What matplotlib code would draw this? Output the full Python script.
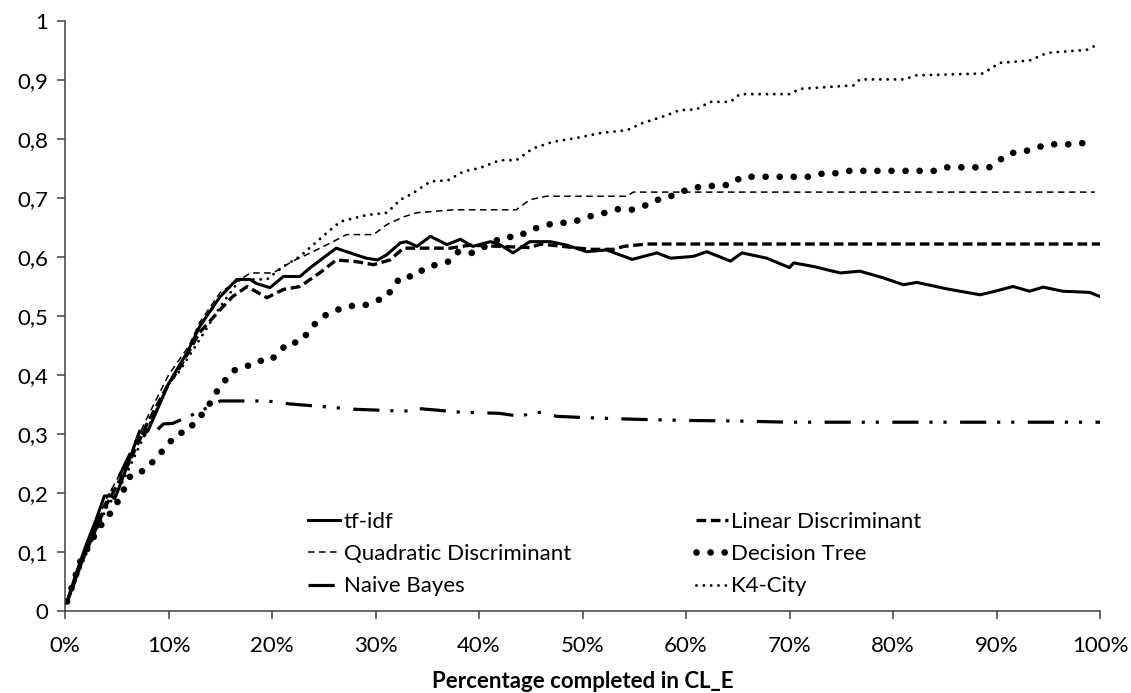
import numpy as np
import matplotlib.pyplot as plt

# values (x in %, y score)
tf_x = [0.2, 1, 2, 3, 3.8, 4.5, 4.8, 6, 7.2, 7.6, 8, 9, 10, 11, 11.8, 13, 14.6, 15.0,
        16.6, 17.9, 18.5, 19.8, 21.1, 22.7, 23.7, 26.2, 27.2, 29.1, 30.2, 31.1, 32.4,
        33.0, 34.0, 35.3, 36.9, 38.2, 39.4, 41.1, 42.0, 43.3, 44.9, 46.9, 48.5, 50.4,
        52.3, 54.8, 57.2, 58.5, 60.7, 62.0, 64.3, 65.4, 67.8, 70.0, 70.4, 72.3, 74.9,
        76.8, 79, 81.0, 82.3, 85.2, 88.4, 89.4, 91.6, 93.2, 94.5, 96.4, 99.0, 100]
tf_y = [0.016, 0.06, 0.11, 0.155, 0.195, 0.195, 0.19, 0.245, 0.305, 0.30, 0.305, 0.345,
        0.385, 0.415, 0.438, 0.482, 0.523, 0.533, 0.562, 0.562, 0.555, 0.548, 0.567,
        0.567, 0.582, 0.615, 0.609, 0.598, 0.595, 0.604, 0.624, 0.626, 0.618, 0.635,
        0.621, 0.63, 0.618, 0.626, 0.621, 0.607, 0.626, 0.626, 0.62, 0.609, 0.612,
        0.596, 0.607, 0.598, 0.601, 0.609, 0.593, 0.607, 0.598, 0.582, 0.590, 0.584,
        0.573, 0.576, 0.565, 0.553, 0.557, 0.546, 0.536, 0.540, 0.550, 0.542, 0.549,
        0.542, 0.540, 0.533]

ld_x = [0.2, 2, 4, 6, 8, 10, 11, 13, 15, 16.2, 17.6, 19.5, 21.1, 22.7, 24.6, 26.2, 28.2,
        29.8, 31.4, 32.7, 37.2, 39.1, 42, 44.9, 46, 50.7, 53, 54, 56.2, 100]
ld_y = [0.016, 0.10, 0.18, 0.245, 0.32, 0.385, 0.41, 0.472, 0.511, 0.533, 0.55, 0.531,
        0.545, 0.55, 0.573, 0.595, 0.592, 0.587, 0.595, 0.615, 0.615, 0.62, 0.618, 0.616,
        0.622, 0.613, 0.613, 0.618, 0.622, 0.622]

qd_x = [0.2, 2, 4, 6, 8, 10, 12, 13, 15, 17.9, 20.1, 22, 23.7, 25.9, 27.2, 29.8, 31.1,
        32.7, 34.0, 37.5, 43.6, 44.9, 46.5, 54.3, 54.9, 99.5]
qd_y = [0.016, 0.105, 0.19, 0.255, 0.33, 0.40, 0.45, 0.489, 0.54, 0.573, 0.573, 0.593,
        0.607, 0.626, 0.638, 0.638, 0.655, 0.668, 0.675, 0.68, 0.68, 0.697, 0.703, 0.703,
        0.710, 0.710]

dt_x = [0.2, 1.45, 3.2, 4.7, 5.3, 6.4, 7.7, 9.3, 10.8, 11.9, 12.7, 13.5, 14.8, 16.2,
        17.6, 18.5, 19.8, 20.8, 21.5, 22.6, 23.5, 24.3, 25.3, 26.4, 27.5, 28.8, 29.9,
        31.1, 31.7, 32.5, 33.8, 34.8, 35.9, 37.2, 38, 39.3, 40.4, 41.4, 42.5, 43.8, 44.9,
        46.2, 47.3, 48.6, 49.8, 50.9, 52.2, 53.3, 54.7, 55.8, 57, 58.2, 59.3, 60.5, 61.7,
        63, 64.3, 65.4, 72.1, 73.3, 74.6, 75.8, 84, 85.2, 89.3, 90.2, 91.3, 92.5, 93.7,
        94.9, 97.6, 99]
dt_y = [0.016, 0.083, 0.139, 0.173, 0.192, 0.232, 0.238, 0.269, 0.30, 0.305, 0.325,
        0.337, 0.376, 0.407, 0.415, 0.424, 0.424, 0.44, 0.455, 0.455, 0.472, 0.49, 0.503,
        0.511, 0.517, 0.517, 0.525, 0.532, 0.55, 0.567, 0.567, 0.582, 0.587, 0.593, 0.609,
        0.607, 0.616, 0.626, 0.634, 0.634, 0.646, 0.652, 0.658, 0.658, 0.663, 0.67, 0.675,
        0.681, 0.68, 0.685, 0.696, 0.70, 0.710, 0.715, 0.721, 0.72, 0.723, 0.736, 0.736,
        0.742, 0.742, 0.746, 0.746, 0.752, 0.752, 0.763, 0.776, 0.778, 0.784, 0.791,
        0.791, 0.795]

nb_x = [0.2, 2, 4, 5, 7.2, 7.4, 8.5, 9.5, 10.4, 12, 13.8, 15, 19.5, 21.7, 25.9, 27.9,
        32.4, 33.3, 33.6, 38.2, 42, 44, 45, 46, 47.5, 50, 55, 60, 65, 70, 100]
nb_y = [0.016, 0.10, 0.185, 0.22, 0.30, 0.298, 0.30, 0.317, 0.318, 0.33, 0.345, 0.356,
        0.356, 0.351, 0.345, 0.342, 0.339, 0.339, 0.344, 0.337, 0.335, 0.33, 0.335,
        0.337, 0.33, 0.328, 0.325, 0.323, 0.322, 0.32, 0.32]

k4_x = [0.2, 2, 4, 5, 6, 8, 10, 11, 13, 15, 16.9, 19.5, 21.1, 22.7, 24, 25.3, 26.6, 29.1,
        31.1, 32.4, 33.6, 35.3, 37, 38.5, 40.1, 42, 43.6, 45.2, 47.1, 49.8, 51.7, 54.3,
        55.8, 58.1, 59.4, 61.0, 62.3, 64.3, 65.2, 70, 71, 76.2, 76.8, 81.0, 82.3, 88.7,
        90.3, 93.2, 94.9, 98.7, 99.4, 100]
k4_y = [0.016, 0.095, 0.175, 0.20, 0.235, 0.31, 0.385, 0.405, 0.46, 0.516, 0.562, 0.562,
        0.584, 0.601, 0.621, 0.641, 0.660, 0.671, 0.675, 0.697, 0.708, 0.728, 0.73, 0.745,
        0.751, 0.764, 0.764, 0.784, 0.795, 0.803, 0.810, 0.815, 0.827, 0.840, 0.849, 0.85,
        0.863, 0.863, 0.876, 0.876, 0.885, 0.891, 0.901, 0.901, 0.908, 0.911, 0.929,
        0.933, 0.946, 0.951, 0.957, 0.955]

x_ticks = [0, 10, 20, 30, 40, 50, 60, 70, 80, 90, 100]
x_labels = [f"{t}%" for t in x_ticks]
y_ticks = [0, 0.1, 0.2, 0.3, 0.4, 0.5, 0.6, 0.7, 0.8, 0.9, 1]
y_labels = ["0", "0,1", "0,2", "0,3", "0,4", "0,5", "0,6", "0,7", "0,8", "0,9", "1"]

plt.rcParams['font.family'] = ['Lato', 'DejaVu Sans']

fig = plt.figure(figsize=(11.31, 6.93), dpi=100)
ax = fig.add_axes([0.0575, 0.1183, 0.9151, 0.8514])

k = 'black'
l_tf, = ax.plot(tf_x, tf_y, color=k, lw=2.2, label='tf-idf')
l_ld, = ax.plot(ld_x, ld_y, color=k, lw=2.4, ls=(0, (2.9, 1.4)), label='Linear Discriminant')
l_qd, = ax.plot(qd_x, qd_y, color=k, lw=1.1, ls=(0, (4.3, 2.9)), label='Quadratic Discriminant')
l_dt, = ax.plot(dt_x, dt_y, color=k, lw=4.8, ls=(0, (0.01, 2.1)),
                dash_capstyle='round', label='Decision Tree')
l_nb, = ax.plot(nb_x, nb_y, color=k, lw=2.3, ls=(0, (8.2, 3.4, 1, 3.4, 1, 4.2)),
                label='Naive Bayes')
l_k4, = ax.plot(k4_x, k4_y, color=k, lw=2.1, ls=(0, (0.01, 2.5)),
                dash_capstyle='round', label='K4-City')

ax.set_xlim(0, 100)
ax.set_ylim(0, 1)
ax.set_xticks(x_ticks)
ax.set_xticklabels(x_labels)
ax.set_yticks(y_ticks)
ax.set_yticklabels(y_labels)
ax.tick_params(axis='both', direction='out', length=6, width=1.1, color='#404040',
               labelsize=16)
ax.tick_params(axis='x', pad=12)
ax.tick_params(axis='y', pad=6)
for s in ['top', 'right']:
    ax.spines[s].set_visible(False)
for s in ['left', 'bottom']:
    ax.spines[s].set_color('#404040')
    ax.spines[s].set_linewidth(1.1)

ax.set_xlabel('Percentage completed in CL_E', fontsize=16, fontweight='bold', labelpad=11)

handles = [l_tf, l_qd, l_nb, l_ld, l_dt, l_k4]
ax.legend(handles=handles, labels=[h.get_label() for h in handles], ncol=2,
          frameon=False, fontsize=16, loc='upper left', bbox_to_anchor=(0.235, 0.168),
          handlelength=1.45, handletextpad=0.15, columnspacing=5.6, labelspacing=0.55,
          borderaxespad=0, borderpad=0)

fig.savefig('out.png', dpi=100)
